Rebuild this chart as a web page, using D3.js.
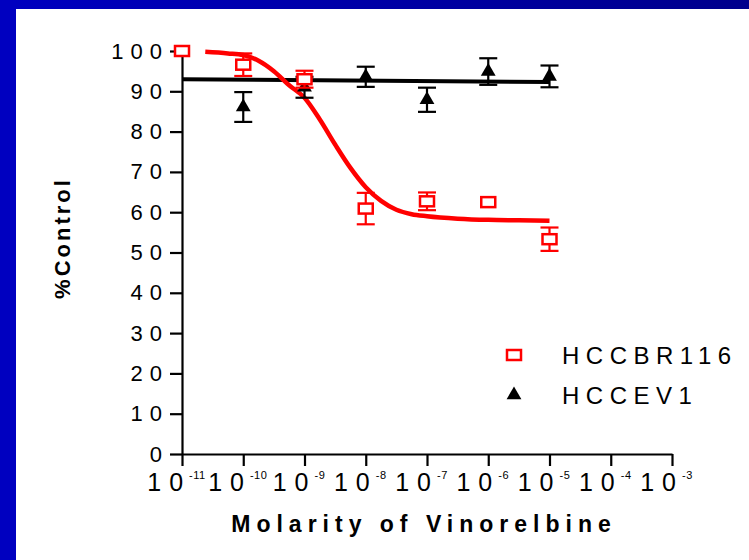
<!DOCTYPE html>
<html>
<head>
<meta charset="utf-8">
<script src="https://cdn.jsdelivr.net/npm/d3@7"></script>
<style>
  html, body { margin: 0; padding: 0; background: #ffffff; }
  svg { display: block; }
  text { font-family: "Liberation Sans", Arial, sans-serif; fill: #000; }
</style>
</head>
<body>
<svg id="chart" width="749" height="560"></svg>
<script>
// Dose–response of two cell lines to vinorelbine (% of untreated control)
const logConcentration = [-11, -10, -9, -8, -7, -6, -5];

const hccbr116Mean = [100, 96.6, 93.0, 60.9, 62.7, 62.5, 53.3];
const hccbr116Sem  = [0, 2.8, 2.1, 3.9, 2.2, 0, 2.9];

const hccev1Log  = [-10, -9, -8, -7, -6, -5];
const hccev1Mean = [86.1, 91.0, 93.6, 87.9, 94.9, 93.7];
const hccev1Sem  = [3.7, 2.6, 2.5, 3.0, 3.3, 2.7];

// Fitted sigmoidal curve for HCCBR116 (log M, % control)
const hccbr116FitLog = [-10.62, -10.25, -10.0, -9.75, -9.5, -9.25, -9.0, -8.75, -8.5, -8.25, -8.0, -7.75, -7.5, -7.25, -7.0, -6.5, -6.0, -5.5, -5.0];
const hccbr116FitVal = [99.8, 99.4, 99.0, 97.6, 95.0, 91.5, 88.4, 83.0, 76.8, 71.0, 66.2, 62.8, 60.6, 59.5, 59.0, 58.4, 58.1, 58.0, 57.9];

// Fitted (flat) line for HCCEV1
const hccev1FitLog = [-11, -5];
const hccev1FitVal = [93.0, 92.3];

const yTickValues = [0, 10, 20, 30, 40, 50, 60, 70, 80, 90, 100];
const xTickExponents = [-11, -10, -9, -8, -7, -6, -5, -4, -3];

const seriesNames = ["HCCBR116", "HCCEV1"];
const xTitle = "Molarity of Vinorelbine";
const yTitle = "%Control";

const RED = "#ff0000";
const BLACK = "#000000";

const svg = d3.select("#chart");

// Slide frame: blue bar at top and left
const defs = svg.append("defs");
const grad = defs.append("linearGradient").attr("id", "topbar")
  .attr("x1", "0%").attr("x2", "100%").attr("y1", "0%").attr("y2", "0%");
grad.append("stop").attr("offset", "0%").attr("stop-color", "#0000c0");
grad.append("stop").attr("offset", "100%").attr("stop-color", "#00008c");
svg.append("rect").attr("x", 0).attr("y", 0).attr("width", 749).attr("height", 9).attr("fill", "url(#topbar)");
svg.append("rect").attr("x", 0).attr("y", 0).attr("width", 16).attr("height", 560).attr("fill", "#0000c0");

const x = d3.scaleLog().domain([1e-11, 1e-3]).range([182, 672]);
const y = d3.scaleLinear().domain([0, 100]).range([454, 51]);
const xl = v => x(Math.pow(10, v));

// Y axis
const yAxis = d3.axisLeft(y).tickValues(yTickValues).tickSize(12).tickSizeOuter(0).tickPadding(6);
const gy = svg.append("g").attr("transform", `translate(${x(1e-11)},0)`).call(yAxis);
gy.select(".domain").attr("stroke", BLACK).attr("stroke-width", 2.2);
gy.selectAll(".tick line").attr("stroke", BLACK).attr("stroke-width", 2.2);
gy.selectAll(".tick text")
  .attr("font-size", 22)
  .attr("font-family", "'Liberation Sans', Arial, sans-serif")
  .attr("letter-spacing", 7)
  .attr("dx", 5)
  .attr("fill", BLACK);

// X axis with power-of-ten labels: "10" with the exponent raised as a superscript
const xAxis = d3.axisBottom(x).tickValues(xTickExponents.map(e => Math.pow(10, e)))
  .tickSize(12).tickSizeOuter(0).tickFormat("");
const gx = svg.append("g").attr("transform", `translate(0,${y(0)})`).call(xAxis);
gx.select(".domain").attr("stroke", BLACK).attr("stroke-width", 2.2);
gx.selectAll(".tick line").attr("stroke", BLACK).attr("stroke-width", 2.2);
gx.selectAll(".tick text").remove();
gx.selectAll(".tick").each(function(d, i) {
  const t = d3.select(this).append("text")
    .attr("y", 37)
    .attr("x", -6)
    .attr("text-anchor", "middle");
  t.append("tspan").attr("font-size", 25).text("1");
  t.append("tspan").attr("font-size", 25).attr("dx", 8).text("0");
  t.append("tspan").attr("font-size", 11).attr("letter-spacing", 0.5)
    .attr("dx", 6).attr("dy", -12).text(String(xTickExponents[i]));
});

// Axis titles
svg.append("text")
  .attr("x", 424).attr("y", 532)
  .attr("text-anchor", "middle")
  .attr("font-size", 23).attr("font-weight", "bold")
  .attr("letter-spacing", 6)
  .text(xTitle);

svg.append("text")
  .attr("transform", "translate(70,238) rotate(-90)")
  .attr("text-anchor", "middle")
  .attr("font-size", 22).attr("font-weight", "bold")
  .attr("letter-spacing", 3)
  .text(yTitle);

// Fit lines
const line = d3.line().x(d => xl(d[0])).y(d => y(d[1])).curve(d3.curveMonotoneX);
svg.append("path")
  .datum(d3.zip(hccev1FitLog, hccev1FitVal))
  .attr("d", line).attr("fill", "none").attr("stroke", BLACK).attr("stroke-width", 4);
svg.append("path")
  .datum(d3.zip(hccbr116FitLog, hccbr116FitVal))
  .attr("d", line).attr("fill", "none").attr("stroke", RED).attr("stroke-width", 4.5);

// Error bars helper
function errorBars(logs, means, sems, color) {
  const g = svg.append("g").attr("stroke", color).attr("stroke-width", 2.2).attr("fill", "none");
  logs.forEach((lv, i) => {
    if (!sems[i]) return;
    const cx = xl(lv), top = y(means[i] + sems[i]), bot = y(means[i] - sems[i]);
    g.append("line").attr("x1", cx).attr("x2", cx).attr("y1", top).attr("y2", bot);
    g.append("line").attr("x1", cx - 9).attr("x2", cx + 9).attr("y1", top).attr("y2", top);
    g.append("line").attr("x1", cx - 9).attr("x2", cx + 9).attr("y1", bot).attr("y2", bot);
  });
}

errorBars(hccev1Log, hccev1Mean, hccev1Sem, BLACK);
const tri = d3.symbol(d3.symbolTriangle, 95);
svg.append("g").selectAll("path").data(d3.zip(hccev1Log, hccev1Mean)).join("path")
  .attr("d", tri)
  .attr("transform", d => `translate(${xl(d[0])},${y(d[1])})`)
  .attr("fill", BLACK);

errorBars(logConcentration, hccbr116Mean, hccbr116Sem, RED);
svg.append("g").selectAll("rect").data(d3.zip(logConcentration, hccbr116Mean)).join("rect")
  .attr("x", d => xl(d[0]) - 7).attr("y", d => y(d[1]) - 5)
  .attr("width", 14).attr("height", 10)
  .attr("fill", "#ffffff").attr("stroke", RED).attr("stroke-width", 2.5);

// Legend
const legend = svg.append("g").attr("transform", "translate(514,355)");
legend.append("rect").attr("x", -7).attr("y", -5).attr("width", 14).attr("height", 10)
  .attr("fill", "#ffffff").attr("stroke", RED).attr("stroke-width", 2.5);
legend.append("path").attr("d", tri).attr("transform", "translate(0,40)").attr("fill", BLACK);
legend.selectAll("text.lab").data(seriesNames).join("text").attr("class", "lab")
  .attr("x", 48).attr("y", (d, i) => i * 40 + 9)
  .attr("font-size", 24).attr("letter-spacing", 6.5)
  .text(d => d);
</script>
</body>
</html>
